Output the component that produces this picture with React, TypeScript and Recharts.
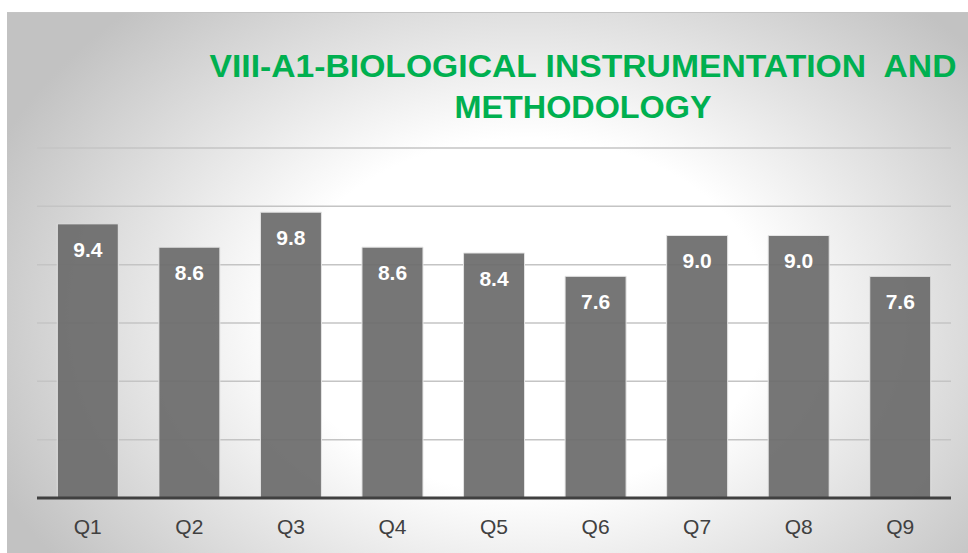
import { BarChart, Bar, XAxis, YAxis, CartesianGrid, LabelList } from 'recharts'

// ---------------------------------------------------------------------------
// Data
// ---------------------------------------------------------------------------

const QUESTIONS = ['Q1', 'Q2', 'Q3', 'Q4', 'Q5', 'Q6', 'Q7', 'Q8', 'Q9']
const SCORES = [9.4, 8.6, 9.8, 8.6, 8.4, 7.6, 9.0, 9.0, 7.6]
const Y_TICKS = [0, 2, 4, 6, 8, 10, 12]

const TITLE_LINES = ['VIII-A1-BIOLOGICAL INSTRUMENTATION  AND', 'METHODOLOGY']
const TITLE_WIDTHS = [747, 257]

const data = QUESTIONS.map((q, i) => ({ q, score: SCORES[i] }))

const FONT = '"Liberation Sans", Arial, sans-serif'

export default function App() {
  return (
    <div style={{ position: 'absolute', left: 0, top: 0, width: 968, height: 553, background: '#fff', overflow: 'hidden' }}>
      <div
        style={{
          position: 'absolute',
          left: 7,
          top: 12,
          width: 961,
          height: 541,
          borderTop: '1px solid #c4c4c4',
          boxSizing: 'border-box',
          background: 'radial-gradient(ellipse 60% 78% at 54% 56%, #ffffff 42%, #c2c2c2 100%)',
        }}
      >
        <BarChart
          width={961}
          height={541}
          data={data}
          margin={{ top: 135, right: 17, left: 30, bottom: 0 }}
          barCategoryGap="20%"
        >
          <CartesianGrid vertical={false} stroke="#c4c4c4" strokeWidth={1.5} />
          <YAxis hide domain={[0, 12]} ticks={Y_TICKS} />
          <XAxis
            dataKey="q"
            height={56}
            axisLine={{ stroke: '#404040', strokeWidth: 3 }}
            tickLine={false}
            tickSize={0}
            tickMargin={21}
            tick={{ fontSize: 21, fill: '#404040', fontFamily: FONT }}
          />
          <Bar
            dataKey="score"
            fill="#6c6c6c"
            fillOpacity={0.93}
            stroke="#e4e4e4"
            strokeWidth={1}
            isAnimationActive={false}
          >
            <LabelList
              dataKey="score"
              position="insideTop"
              offset={18}
              formatter={(v: number) => v.toFixed(1)}
              style={{ fill: '#ffffff', fontSize: 21, fontWeight: 700, fontFamily: FONT }}
            />
          </Bar>
        </BarChart>
      </div>
      {/* Two-line green title, centred over the right part of the plot */}
      <svg width={968} height={140} style={{ position: 'absolute', left: 0, top: 0 }}>
        {TITLE_LINES.map((line, i) => (
          <text
            key={line}
            x={583}
            y={77 + i * 41}
            textAnchor="middle"
            fill="#00b050"
            fontFamily={FONT}
            fontWeight={700}
            fontSize={31}
            textLength={TITLE_WIDTHS[i]}
            lengthAdjust="spacingAndGlyphs"
            style={{ whiteSpace: 'pre' }}
          >
            {line}
          </text>
        ))}
      </svg>
    </div>
  )
}
